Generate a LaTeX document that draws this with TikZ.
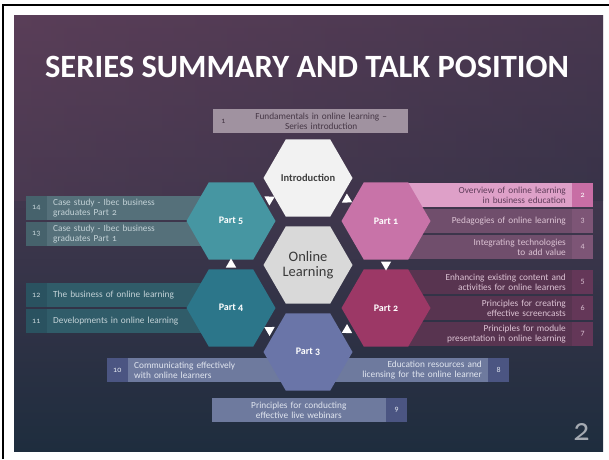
\documentclass[tikz,border=0pt]{standalone}
\usepackage{fontspec}
\setmainfont{Carlito}[Numbers=OldStyle]
\usetikzlibrary{shapes.geometric,positioning}

\definecolor{bgtop}{RGB}{90,62,88}
\definecolor{bgmid}{RGB}{40,44,64}
\definecolor{bgbot}{RGB}{30,45,62}
\definecolor{hexintro}{RGB}{242,242,242}
\definecolor{hexol}{RGB}{217,217,217}
\definecolor{hexone}{RGB}{200,115,168}
\definecolor{hextwo}{RGB}{156,56,102}
\definecolor{hexthree}{RGB}{106,117,168}
\definecolor{hexfour}{RGB}{44,118,138}
\definecolor{hexfive}{RGB}{70,150,162}
\definecolor{barintro}{RGB}{160,146,160}
\definecolor{txtintro}{RGB}{70,55,70}
\definecolor{barhi}{RGB}{222,160,200}
\definecolor{numhi}{RGB}{200,110,165}
\definecolor{txthi}{RGB}{95,60,90}
\definecolor{barone}{RGB}{112,78,108}
\definecolor{numone}{RGB}{125,85,118}
\definecolor{bartwo}{RGB}{88,52,80}
\definecolor{numtwo}{RGB}{100,55,88}
\definecolor{txtpink}{RGB}{220,195,212}
\definecolor{barfive}{RGB}{85,112,122}
\definecolor{numfive}{RGB}{70,98,108}
\definecolor{barfour}{RGB}{48,92,105}
\definecolor{numfour}{RGB}{42,82,96}
\definecolor{txtteal}{RGB}{195,210,215}
\definecolor{barthree}{RGB}{110,122,158}
\definecolor{numthree}{RGB}{75,85,130}
\definecolor{txtblue}{RGB}{225,230,240}

\tikzstyle{hexa} = [
        on grid, regular polygon, regular polygon sides=6, minimum size=89pt,
        inner sep=0pt, align=center, text=white,
        font=\bfseries\fontsize{10}{12}\selectfont
    ]
\tikzstyle{flow} = [
        isosceles triangle, isosceles triangle apex angle=60, fill=white,
        inner sep=0pt, minimum size=9pt, sloped, allow upside down
    ]
\tikzstyle{bar} = [
        rectangle, minimum height=24pt, inner xsep=6pt, inner ysep=0pt,
        font=\fontsize{9.3}{10}\selectfont
    ]
\tikzstyle{rbar} = [bar, text width=174pt, align=right, anchor=east]
\tikzstyle{lbar} = [bar, text width=172pt, align=left, anchor=west]
\tikzstyle{cbar} = [bar, text width=162pt, align=center]
\tikzstyle{numbox} = [
        rectangle, minimum height=24pt, minimum width=21pt, inner sep=0pt,
        font=\fontsize{8}{8}\selectfont
    ]

\begin{document}
\begin{tikzpicture}[x=1pt, y=-1pt]
        \useasboundingbox (0,0) rectangle (609,459);
        % frame and slide
        \draw [line width=2pt] (3,459) -- (3,5) -- (609,5);
        \shade [top color=bgtop, middle color=bgmid, bottom color=bgbot]
            (14,15) rectangle (603,451);
        \shade [left color=bgtop, right color=bgmid, opacity=0.35]
            (14,15) rectangle (603,200);
        \node [font=\bfseries\fontsize{32.5}{32}\selectfont, text=white, anchor=base]
            (title) at (307,77) {SERIES SUMMARY AND TALK POSITION};

        % talk bars
        \node [cbar, anchor=west, fill=barintro, text=txtintro] (t1) at (234,121)
            {Fundamentals in online learning --\\Series introduction};
        \node [numbox, left=0pt of t1, fill=barintro, text=txtintro] (n1) {1};

        \node [rbar, fill=barhi, text=txthi] (t2) at (572,195)
            {Overview of online learning\\in business education};
        \node [numbox, right=0pt of t2, fill=numhi, text=white] (n2) {2};
        \node [rbar, fill=barone, text=txtpink] (t3) at (572,221)
            {Pedagogies of online learning};
        \node [numbox, right=0pt of t3, fill=numone, text=txtpink] (n3) {3};
        \node [rbar, fill=barone, text=txtpink] (t4) at (572,247)
            {Integrating technologies\\to add value};
        \node [numbox, right=0pt of t4, fill=numone, text=txtpink] (n4) {4};
        \node [rbar, fill=bartwo, text=txtpink] (t5) at (572,282)
            {Enhancing existing content and\\activities for online learners};
        \node [numbox, right=0pt of t5, fill=numtwo, text=txtpink] (n5) {5};
        \node [rbar, fill=bartwo, text=txtpink] (t6) at (572,308)
            {Principles for creating\\effective screencasts};
        \node [numbox, right=0pt of t6, fill=numtwo, text=txtpink] (n6) {6};
        \node [rbar, fill=bartwo, text=txtpink] (t7) at (572,334)
            {Principles for module\\presentation in online learning};
        \node [numbox, right=0pt of t7, fill=numtwo, text=txtpink] (n7) {7};

        \node [rbar, text width=160pt, fill=barthree, text=txtblue] (t8) at (488,370)
            {Education resources and\\licensing for the online learner};
        \node [numbox, right=0pt of t8, fill=numthree, text=txtblue] (n8) {8};
        \node [cbar, anchor=east, fill=barthree, text=txtblue] (t9) at (386,410)
            {Principles for conducting\\effective live webinars};
        \node [numbox, right=0pt of t9, fill=numthree, text=txtblue] (n9) {9};
        \node [lbar, text width=160pt, fill=barthree, text=txtblue] (t10) at (128,370)
            {Communicating effectively\\with online learners};
        \node [numbox, left=0pt of t10, fill=numthree, text=txtblue] (n10) {10};

        \node [lbar, fill=barfour, text=txtteal] (t11) at (47,321)
            {Developments in online learning};
        \node [numbox, left=0pt of t11, fill=numfour, text=txtteal] (n11) {11};
        \node [lbar, fill=barfour, text=txtteal] (t12) at (47,295)
            {The business of online learning};
        \node [numbox, left=0pt of t12, fill=numfour, text=txtteal] (n12) {12};
        \node [lbar, fill=barfive, text=txtteal] (t13) at (47,234)
            {Case study - Ibec business\\graduates Part 1};
        \node [numbox, left=0pt of t13, fill=numfive, text=txtteal] (n13) {13};
        \node [lbar, fill=barfive, text=txtteal] (t14) at (47,208)
            {Case study - Ibec business\\graduates Part 2};
        \node [numbox, left=0pt of t14, fill=numfive, text=txtteal] (n14) {14};

        % hexagons
        \node [hexa, fill=hexol, text={rgb,255:red,58;green,58;blue,58},
            font=\fontsize{14.5}{15}\selectfont] (ol) at (308,265) {Online\\Learning};
        \node [hexa, fill=hexintro, text={rgb,255:red,64;green,64;blue,64},
            font=\bfseries\fontsize{10.5}{12}\selectfont,
            above=87pt of ol] (intro) {Introduction};
        \node [hexa, fill=hexone, above right=44pt and 78pt of ol] (p1) {Part 1};
        \node [hexa, fill=hextwo, below right=43pt and 78pt of ol] (p2) {Part 2};
        \node [hexa, fill=hexthree, below=87pt of ol] (p3) {Part 3};
        \node [hexa, fill=hexfour, below left=43pt and 77pt of ol] (p4) {Part 4};
        \node [hexa, fill=hexfive, above left=44pt and 77pt of ol] (p5) {Part 5};

        % order of the parts
        \path (intro) -- node[flow] {} (p1);
        \path (p1) -- node[flow] {} (p2);
        \path (p2) -- node[flow] {} (p3);
        \path (p3) -- node[flow] {} (p4);
        \path (p4) -- node[flow] {} (p5);
        \path (p5) -- node[flow] {} (intro);

        \node [font=\fontsize{32}{32}\selectfont, text={rgb,255:red,165;green,170;blue,178},
            anchor=base east] (page) at (593,440) {2};
    \end{tikzpicture}
\end{document}
